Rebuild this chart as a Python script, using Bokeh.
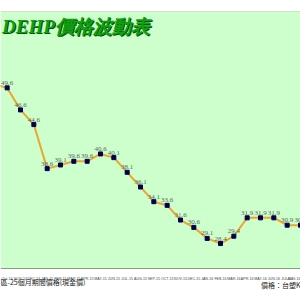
from bokeh.plotting import figure
from bokeh.models import Range1d, FixedTicker, Label, Span, ColumnDataSource, LabelSet, BoxAnnotation
from bokeh.embed import file_html
from bokeh.resources import INLINE
from bokeh.core.properties import value

months = ["SEP-14", "Oct-14", "NOV-14", "DEC-14", "JAN-15", "FEB-15", "MAR-15",
          "APR-15", "MAY-15", "JUN-15", "JUL-15", "AUG-15", "SEP-15", "OCT-15",
          "NOV-15", "DEC-15", "JAN-16", "FEB-16", "MAR-16", "APR-16", "MAY-16",
          "JUN-16", "JUL-16", "AUG-16"]
prices = [50.1, 49.6, 46.6, 44.6, 38.6, 39.1, 39.6, 39.6, 40.6, 40.1, 38.1, 36.1,
          34.1, 33.6, 31.6, 30.6, 29.1, 28.4, 29.4, 31.9, 31.9, 31.9, 30.9, 30.9]
title_text = "DEHP價格波動表"
note_left = "區-25個月期間價格(現金價)"
note_right = "價格：台塑K"

xs = list(range(len(months)))
src = ColumnDataSource(dict(x=xs, y=prices, lbl=["%.1f" % v for v in prices]))

# frame spans y=11..300 ; value 60 at top, value 25 at y=268
ymin = 25 - 32 / (257 / 35)
p = figure(width=300, height=300, x_range=Range1d(0.5, 23.0), y_range=Range1d(ymin, 60),
           output_backend="svg", toolbar_location=None, y_axis_location=None,
           min_border_left=0, min_border_right=0, min_border_top=11, min_border_bottom=0,
           background_fill_color="white", border_fill_color="white")
p.outline_line_color = None

p.add_layout(BoxAnnotation(bottom=25, top=60, fill_color="#ccffcc", fill_alpha=1.0,
                           line_color=None, level="underlay"))

p.xgrid.visible = False
p.ygrid.visible = False

p.xaxis.fixed_location = 25
p.xaxis.ticker = FixedTicker(ticks=xs)
p.xaxis.major_label_overrides = {i: m for i, m in enumerate(months)}
p.xaxis.major_label_text_font_size = "3.6px"
p.xaxis.major_label_text_color = "#444444"
p.xaxis.major_label_standoff = 2
p.xaxis.major_tick_line_color = None
p.xaxis.minor_tick_line_color = None
p.xaxis.axis_line_color = "#8a9a8a"

p.add_layout(Span(location=60, dimension="width", line_color="#b8b8b8", line_width=1))

p.line("x", "y", source=src, line_color="#eea52e", line_width=2)
p.scatter("x", "y", source=src, marker="square", size=4, fill_color="#000050",
          line_color="#000050")
p.add_layout(LabelSet(x="x", y="y", text="lbl", source=src, text_font=value("Liberation Serif"),
                      text_font_size="7px", text_color="#5a6a5a", text_align="center",
                      text_baseline="bottom", y_offset=3))

tfont = "Liberation Serif"
p.add_layout(Label(x=2.5, y=284, x_units="screen", y_units="screen", text=title_text,
                   text_font=tfont, text_font_style="bold italic",
                   text_font_size="19px", text_color="#005500", text_baseline="top"))
p.add_layout(Label(x=1.5, y=285, x_units="screen", y_units="screen", text=title_text,
                   text_font=tfont, text_font_style="bold italic",
                   text_font_size="19px", text_color="#10a010", text_baseline="top"))

p.add_layout(Label(x=0, y=19, x_units="screen", y_units="screen", text=note_left,
                   text_font="Noto Sans CJK TC", text_font_size="7px",
                   text_color="#222222", text_baseline="middle"))
p.add_layout(Label(x=300, y=16, x_units="screen", y_units="screen", text=note_right,
                   text_font="Noto Sans CJK TC", text_font_size="7px",
                   text_color="#222222", text_baseline="middle", text_align="right"))

open("out.html", "w").write(file_html(p, INLINE))
